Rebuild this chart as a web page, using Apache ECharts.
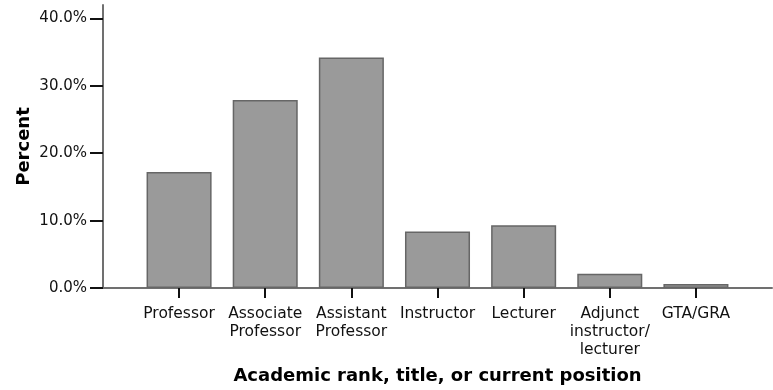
<!DOCTYPE html>
<html>
<head>
<meta charset="utf-8">
<script src="https://cdn.jsdelivr.net/npm/echarts@6/dist/echarts.min.js"></script>
<style>
html,body{margin:0;padding:0;background:#fff;}
#chart{width:773px;height:390px;}
</style>
</head>
<body>
<div id="chart"></div>
<script>
const categories = ['Professor', 'Associate\nProfessor', 'Assistant\nProfessor', 'Instructor', 'Lecturer', 'Adjunct\ninstructor/\nlecturer', 'GTA/GRA'];
const percents = [17.2, 27.9, 34.2, 8.4, 9.3, 2.1, 0.6];
const yTicks = [0, 10, 20, 30, 40];
const yTitle = 'Percent';
const xTitle = 'Academic rank, title, or current position';

const FONT = '"DejaVu Sans", sans-serif';
const chart = echarts.init(document.getElementById('chart'), null, {renderer: 'canvas'});
const yMax = 42;

chart.setOption({
  animation: false,
  backgroundColor: '#ffffff',
  grid: [
    {left: 103, top: 5, width: 669, height: 283},
    {left: 136, top: 5, width: 603, height: 283}
  ],
  xAxis: [
    {
      gridIndex: 0, type: 'value', min: 0, max: 1,
      axisLine: {show: true, lineStyle: {color: '#707070', width: 2}},
      axisTick: {show: false}, axisLabel: {show: false}, splitLine: {show: false}
    },
    {
      gridIndex: 1, type: 'category', data: categories,
      axisLine: {show: false},
      axisTick: {show: true, alignWithLabel: true, length: 10, lineStyle: {color: '#111', width: 2}},
      axisLabel: {
        interval: 0, margin: 17, color: '#111',
        fontFamily: FONT, fontSize: 15.5, lineHeight: 18, align: 'center'
      },
      name: xTitle, nameLocation: 'middle', nameGap: 79, nameMoveOverlap: false,
      nameTextStyle: {fontFamily: FONT, fontSize: 18, fontWeight: 'bold', color: '#000'}
    }
  ],
  yAxis: [
    {
      gridIndex: 0, type: 'value', min: 0, max: yMax, interval: 10,
      axisLine: {show: true, lineStyle: {color: '#707070', width: 2}},
      axisTick: {show: true, length: 13, customValues: yTicks, lineStyle: {color: '#111', width: 2}},
      axisLabel: {
        customValues: yTicks, margin: 16, color: '#111',
        fontFamily: FONT, fontSize: 15, formatter: v => v.toFixed(1) + '%'
      },
      splitLine: {show: false},
      name: yTitle, nameLocation: 'middle', nameGap: 70, nameRotate: 90, nameMoveOverlap: false,
      nameTextStyle: {fontFamily: FONT, fontSize: 18, fontWeight: 'bold', color: '#000'}
    },
    {
      gridIndex: 1, type: 'value', min: 0, max: yMax, show: false
    }
  ],
  series: [{
    type: 'bar', xAxisIndex: 1, yAxisIndex: 1,
    data: percents, barCategoryGap: '24.5%',
    itemStyle: {color: '#9a9a9a', borderColor: '#666666', borderWidth: 1.5}
  }]
});
</script>
</body>
</html>
